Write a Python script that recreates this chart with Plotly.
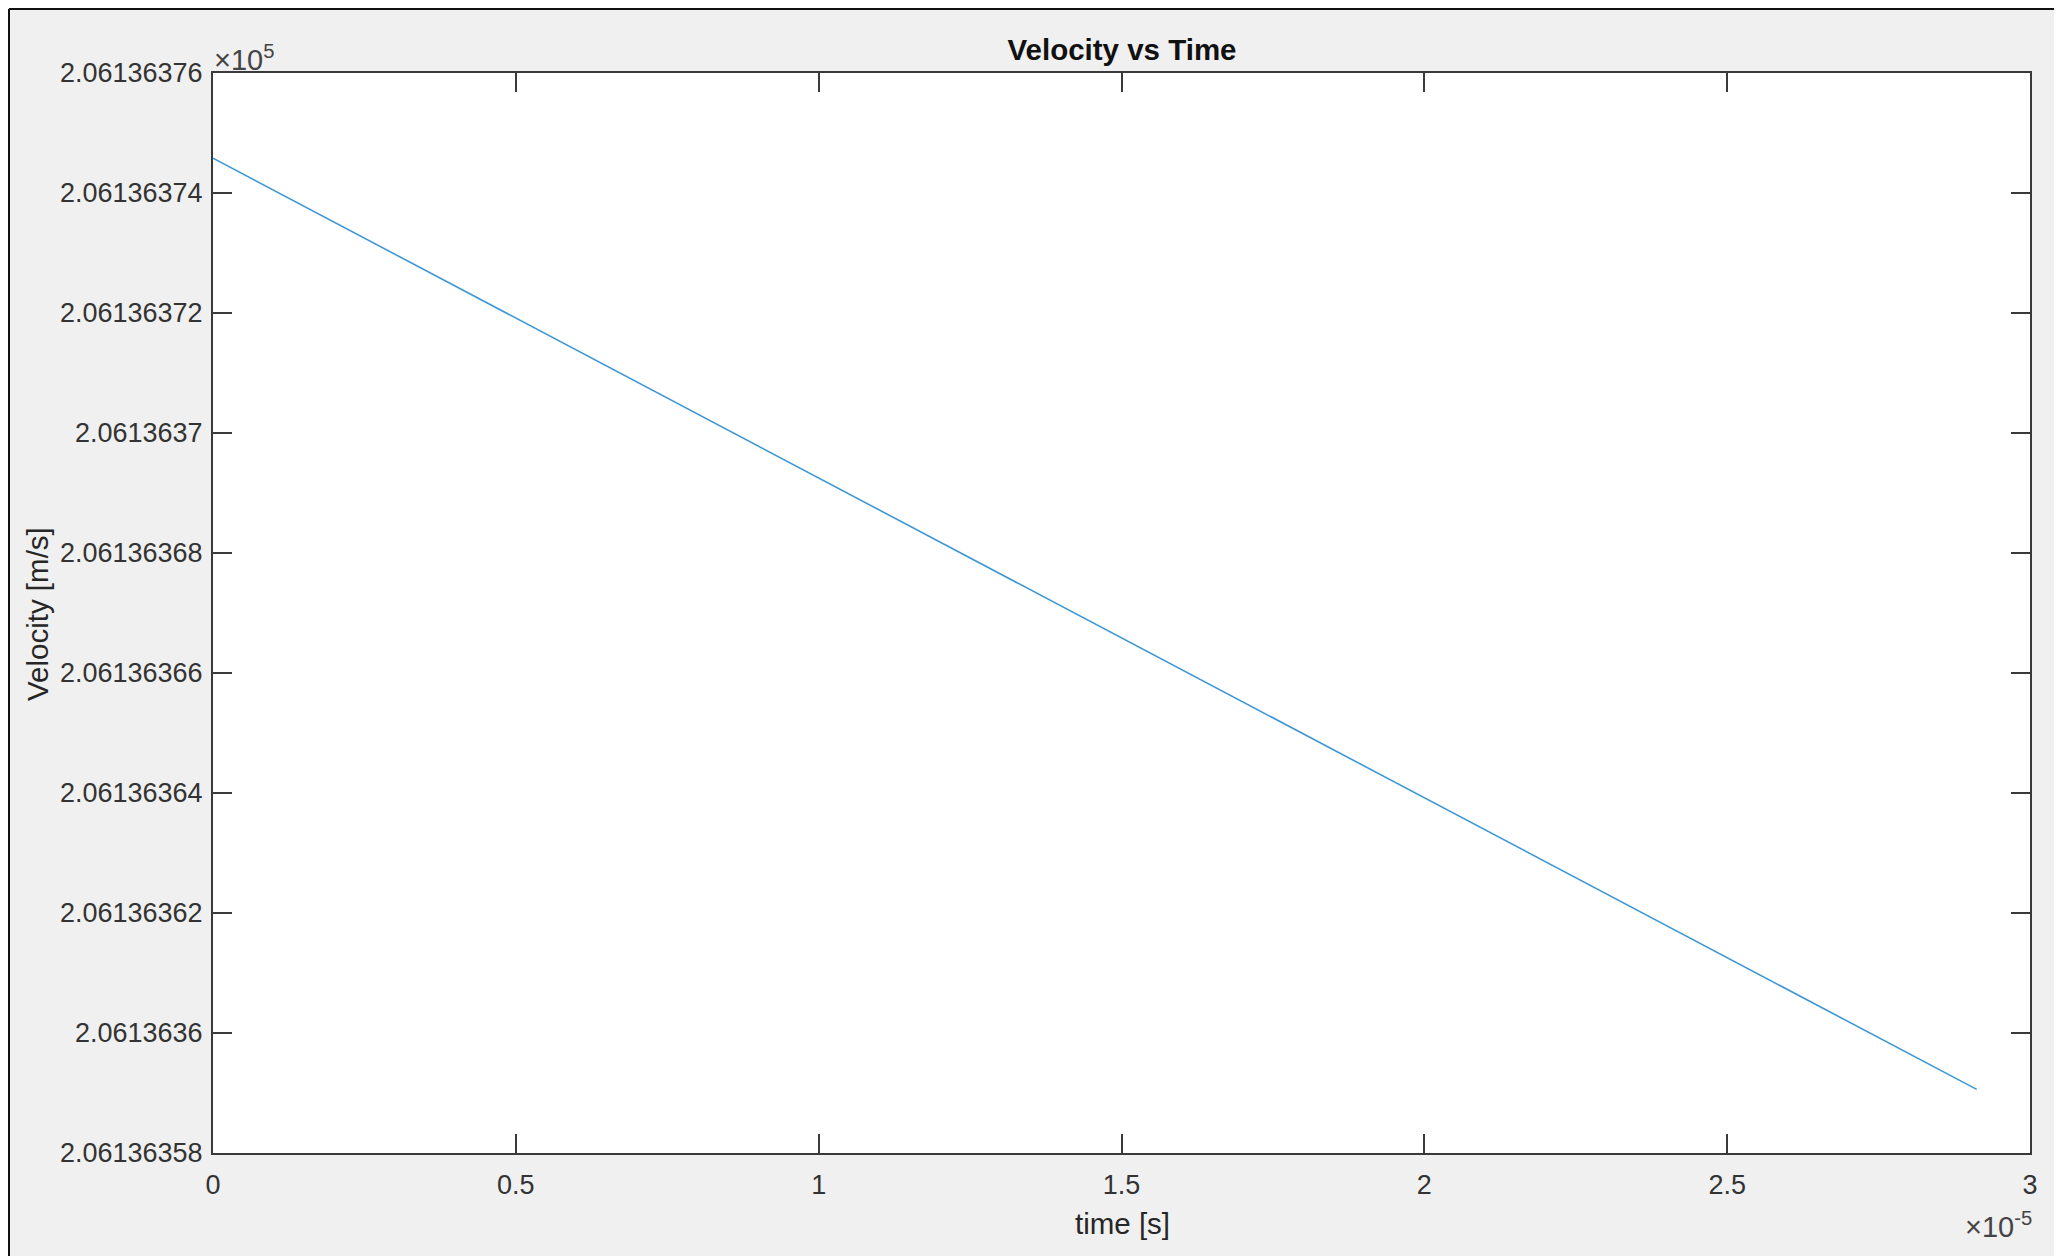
import plotly.graph_objects as go

# Data (time in seconds, velocity in m/s)
time_s = [0.0, 2.912e-5]
velocity_ms = [206136.37458, 206136.35906]

# Axis exponent multipliers (MATLAB-style)
x_exp = -5
y_exp = 5

x_tick_vals = [0, 0.5, 1, 1.5, 2, 2.5, 3]
x_tick_text = ["0", "0.5", "1", "1.5", "2", "2.5", "3"]
y_tick_vals = [2.06136358, 2.06136360, 2.06136362, 2.06136364, 2.06136366,
               2.06136368, 2.06136370, 2.06136372, 2.06136374, 2.06136376]
y_tick_text = ["2.06136358", "2.0613636", "2.06136362", "2.06136364", "2.06136366",
               "2.06136368", "2.0613637", "2.06136372", "2.06136374", "2.06136376"]

x_plot = [t / 10 ** x_exp for t in time_s]
y_plot = [v / 10 ** y_exp for v in velocity_ms]

# page offset (default body margin) compensation
OFF = 8
PW, PH = 2062, 1256
W, H = PW - OFF, PH - OFF
# plot area in page pixels
PL, PR, PT, PB = 213, 2030, 73, 1153
L, T = PL - OFF, PT - OFF
R = W - (PR - OFF)
B = H - (PB - OFF)
pw, ph = W - L - R, H - T - B

def px_x(x):
    return (x - OFF - L) / pw

def px_y(y):
    return (H - B - (y - OFF)) / ph

fig = go.Figure()
fig.add_trace(go.Scatter(x=x_plot, y=y_plot, mode="lines",
                         line=dict(color="#3f97d4", width=1.6),
                         showlegend=False))

font = "Liberation Sans, Arial, Helvetica, sans-serif"
axcol = "#3a3a3a"
tickfont = dict(family=font, size=27, color="#333333")

fig.update_layout(
    width=W, height=H,
    margin=dict(l=L, r=R, t=T, b=B),
    paper_bgcolor="#f0f0f0",
    plot_bgcolor="#ffffff",
    title=dict(text="<b>Velocity vs Time</b>", x=(1122 - OFF) / W, xref="container",
               y=1 - (50 - OFF) / H, yref="container", xanchor="center", yanchor="middle",
               font=dict(family=font, size=29.5, color="#111111")),
    xaxis=dict(range=[0, 3], tickvals=x_tick_vals, ticktext=x_tick_text,
               ticks="inside", ticklen=19, tickwidth=2, tickcolor=axcol,
               showline=True, linecolor=axcol, linewidth=2, mirror="ticks",
               showgrid=False, zeroline=False, tickfont=tickfont,
               ticklabelstandoff=7),
    yaxis=dict(range=[2.06136358, 2.06136376], tickvals=y_tick_vals,
               ticktext=y_tick_text,
               ticks="inside", ticklen=19, tickwidth=2, tickcolor=axcol,
               showline=True, linecolor=axcol, linewidth=2, mirror="ticks",
               showgrid=False, zeroline=False, tickfont=tickfont,
               ticklabelstandoff=3),
    annotations=[
        dict(text="time [s]", xref="paper", yref="paper", x=px_x(1122), y=px_y(1223),
             xanchor="center", yanchor="middle", showarrow=False,
             font=dict(family=font, size=29.5, color="#262626")),
        dict(text="Velocity [m/s]", xref="paper", yref="paper", x=px_x(37), y=px_y(614),
             xanchor="center", yanchor="middle", showarrow=False, textangle=-90,
             font=dict(family=font, size=29.5, color="#262626")),
        dict(text="×10<sup>%d</sup>" % y_exp, xref="paper", yref="paper",
             x=px_x(212), y=px_y(58), xanchor="left", yanchor="middle", showarrow=False,
             font=dict(family=font, size=29, color="#444444")),
        dict(text="×10<sup>%d</sup>" % x_exp, xref="paper", yref="paper",
             x=px_x(2034), y=px_y(1225), xanchor="right", yanchor="middle", showarrow=False,
             font=dict(family=font, size=29, color="#444444")),
    ],
    shapes=[
        dict(type="line", xref="paper", yref="paper", x0=px_x(9), x1=px_x(2062),
             y0=px_y(9), y1=px_y(9), line=dict(color="#111111", width=2)),
        dict(type="line", xref="paper", yref="paper", x0=px_x(9), x1=px_x(9),
             y0=px_y(9), y1=px_y(1256), line=dict(color="#111111", width=2)),
    ],
)

fig.write_html("out.html")
